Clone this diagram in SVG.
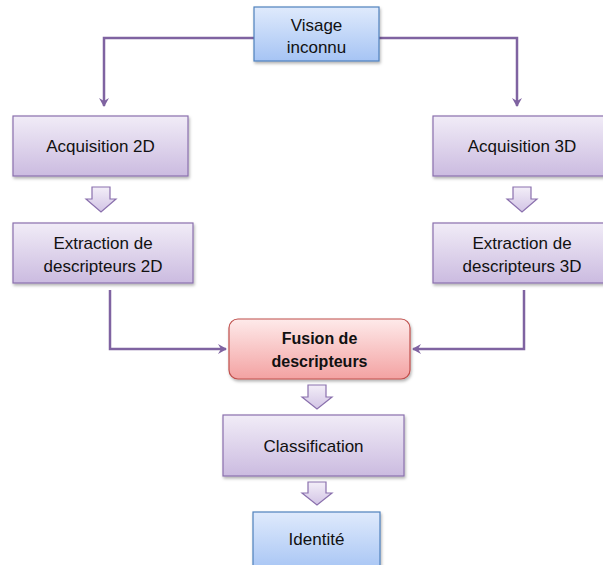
<svg xmlns="http://www.w3.org/2000/svg" width="603" height="565" viewBox="0 0 603 565">
  <defs>
    <linearGradient id="gPurple" x1="0" y1="0" x2="0" y2="1">
      <stop offset="0" stop-color="#f1ecf7"/>
      <stop offset="1" stop-color="#cbbbe0"/>
    </linearGradient>
    <linearGradient id="gBlue" x1="0" y1="0" x2="0" y2="1">
      <stop offset="0" stop-color="#dfeafc"/>
      <stop offset="1" stop-color="#a6c4f4"/>
    </linearGradient>
    <linearGradient id="gRed" x1="0" y1="0" x2="0" y2="1">
      <stop offset="0" stop-color="#feeaea"/>
      <stop offset="1" stop-color="#f3a2a2"/>
    </linearGradient>
    <linearGradient id="gArrow" x1="0" y1="0" x2="0" y2="1">
      <stop offset="0" stop-color="#f3eef8"/>
      <stop offset="1" stop-color="#d2c4e5"/>
    </linearGradient>
    <filter id="shadow" x="-10%" y="-10%" width="130%" height="140%">
      <feDropShadow dx="1" dy="2" stdDeviation="1.5" flood-color="#000" flood-opacity="0.3"/>
    </filter>
    <marker id="head" markerUnits="userSpaceOnUse" markerWidth="12" markerHeight="12" refX="8" refY="5" orient="auto">
      <path d="M0,0 L9,5 L0,10 L3,5 Z" fill="#7f63a1"/>
    </marker>
  </defs>
  <style>
    .box { stroke-width: 1.2; filter: url(#shadow); }
    .purple { fill: url(#gPurple); stroke: #8a70ad; }
    .blue { fill: url(#gBlue); stroke: #4f81bd; }
    .red { fill: url(#gRed); stroke: #c0504d; }
    .lbl { font-family: "Liberation Sans", Arial, sans-serif; font-size: 17px; fill: #111; text-anchor: middle; }
    .bold { font-weight: bold; font-size: 16px; }
    .conn { fill: none; stroke: #7f63a1; stroke-width: 2.5; marker-end: url(#head); }
    .flow { fill: url(#gArrow); stroke: #8a70ad; stroke-width: 1.2; }
  </style>

  <!-- connectors -->
  <g id="connectors">
    <path class="conn" d="M254,38 H104 V106"/>
    <path class="conn" d="M379,38 H517 V106"/>
    <path class="conn" d="M110,290 V349 H226"/>
    <path class="conn" d="M524,290 V349 H413"/>
    <!-- block arrows -->
    <path class="flow" d="M92,187 H110 V199 H116 L101,212 L86,199 H92 Z"/>
    <path class="flow" d="M513,187 H531 V199 H537 L522,212 L507,199 H513 Z"/>
    <path class="flow" d="M308,385 H326 V397 H332 L317,409 L302,397 H308 Z"/>
    <path class="flow" d="M308,482 H326 V493 H332 L317,505 L302,493 H308 Z"/>
  </g>

  <g id="visage">
    <rect class="box blue" x="254" y="7" width="125" height="54"/>
    <text class="lbl" x="316.5" y="31">Visage</text>
    <text class="lbl" x="316.5" y="53">inconnu</text>
  </g>

  <g id="acq2d">
    <rect class="box purple" x="13" y="116" width="175" height="60"/>
    <text class="lbl" x="100.5" y="152">Acquisition 2D</text>
  </g>

  <g id="acq3d">
    <rect class="box purple" x="433" y="116" width="178" height="60"/>
    <text class="lbl" x="522" y="152">Acquisition 3D</text>
  </g>

  <g id="ext2d">
    <rect class="box purple" x="13" y="223" width="180" height="60"/>
    <text class="lbl" x="103" y="249">Extraction de</text>
    <text class="lbl" x="103" y="272">descripteurs 2D</text>
  </g>

  <g id="ext3d">
    <rect class="box purple" x="433" y="223" width="178" height="60"/>
    <text class="lbl" x="522" y="249">Extraction de</text>
    <text class="lbl" x="522" y="272">descripteurs 3D</text>
  </g>

  <g id="fusion">
    <rect class="box red" x="229" y="319" width="181" height="60" rx="9"/>
    <text class="lbl bold" x="319.5" y="344">Fusion de</text>
    <text class="lbl bold" x="319.5" y="367">descripteurs</text>
  </g>

  <g id="classification">
    <rect class="box purple" x="223" y="415" width="181" height="61"/>
    <text class="lbl" x="313.5" y="452">Classification</text>
  </g>

  <g id="identite">
    <rect class="box blue" x="253" y="512" width="127" height="60"/>
    <text class="lbl" x="316.5" y="545">Identité</text>
  </g>
</svg>
